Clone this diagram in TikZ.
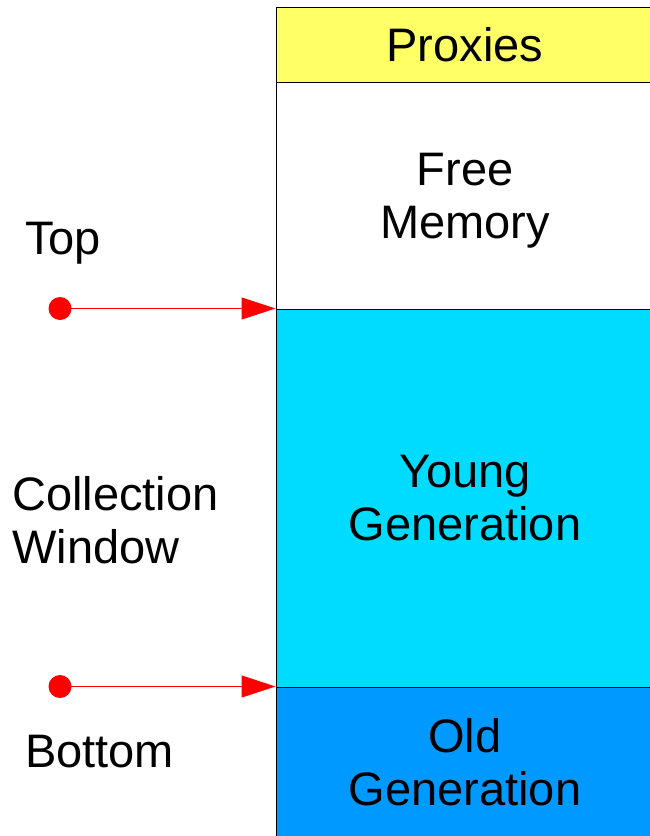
\documentclass[tikz,border=0pt]{standalone}
\usepackage{fontspec}
\setmainfont{Liberation Sans}
\usetikzlibrary{arrows.meta}
\definecolor{proxyyellow}{HTML}{FFFF66}
\definecolor{youngcyan}{HTML}{00DCFF}
\definecolor{oldblue}{HTML}{0099FF}
\begin{document}
\begin{tikzpicture}[x=1pt,y=-1pt,
  region/.style={draw=black,line width=1pt,minimum width=378pt,inner sep=0pt,
    anchor=north west,align=center,font=\fontsize{47}{53}\selectfont},
  sidelabel/.style={anchor=west,align=left,inner sep=0pt,font=\fontsize{47}{53}\selectfont},
  pointer/.style={red,line width=1pt,-{Triangle[length=34pt,width=22pt]}},
  dot/.style={circle,fill=red,inner sep=0pt,minimum size=23pt}]
  \useasboundingbox (0,0) rectangle (650,836);
  % memory regions, stacked top to bottom
  \node[region,fill=proxyyellow,minimum height=75pt] (proxies) at (275.5,6.5) {Proxies};
  \node[region,fill=white,minimum height=227pt,text depth=-8pt] (free) at (275.5,81.5) {Free\\Memory};
  \node[region,fill=youngcyan,minimum height=378pt] (young) at (275.5,308.5) {Young\\Generation};
  \node[region,fill=oldblue,minimum height=151pt] (old) at (275.5,686.5) {Old\\Generation};
  % labels on the left
  \node[sidelabel] (top) at (25,243) {Top};
  \node[sidelabel] (window) at (12,520) {Collection\\Window};
  \node[sidelabel] (bottom) at (25,752) {Bottom};
  % boundary pointers
  \node[dot] (topdot) at (60,308.5) {};
  \node[dot] (botdot) at (60,686.5) {};
  \draw[pointer] (topdot.center) -- (young.north west);
  \draw[pointer] (botdot.center) -- (old.north west);
\end{tikzpicture}
\end{document}
